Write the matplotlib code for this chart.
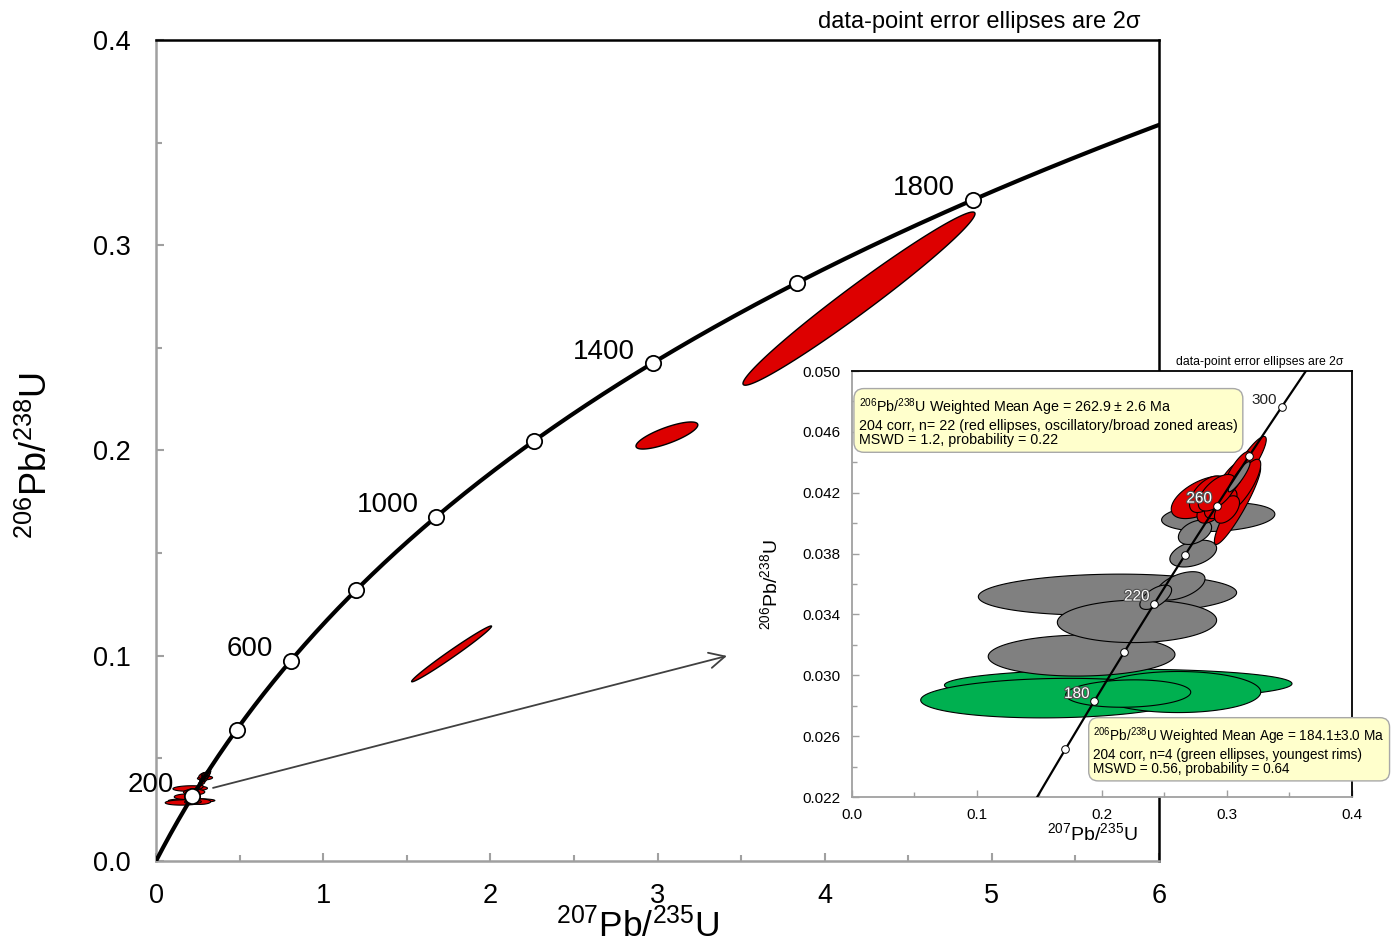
import numpy as np
import matplotlib
matplotlib.use("Agg")
import matplotlib.pyplot as plt
from matplotlib.patches import Polygon
from matplotlib.ticker import AutoMinorLocator
import matplotlib.patheffects as pe

plt.rcParams['font.family'] = ['Liberation Sans', 'DejaVu Sans']
plt.rcParams['mathtext.fontset'] = 'custom'
plt.rcParams['mathtext.rm'] = 'Liberation Sans'
plt.rcParams['mathtext.it'] = 'Liberation Sans:italic'
plt.rcParams['mathtext.bf'] = 'Liberation Sans:bold'

# U decay constants (1/yr)
LAMBDA_238 = 1.55125e-10
LAMBDA_235 = 9.8485e-10

# concordia age marks (Ma)
main_ages = [200, 400, 600, 800, 1000, 1200, 1400, 1600, 1800]
main_age_labels = [200, 600, 1000, 1400, 1800]
inset_ages = [160, 180, 200, 220, 240, 260, 280, 300]
inset_age_labels = [180, 220, 260, 300]
inset_haloed_labels = [180, 220, 260]

# older discordant grains: 207Pb/235U, 2s, 206Pb/238U, 2s, rho
old_x = [4.205, 3.056, 1.768]
old_x2s = [0.694, 0.185, 0.239]
old_y = [0.2740, 0.2073, 0.1009]
old_y2s = [0.0422, 0.0066, 0.0136]
old_rho = [0.98, 0.78, 0.988]

# Triassic-Permian grains (drawing order), group: rim / core / osc
grain_group = ['rim', 'rim', 'rim', 'rim',
               'core', 'core', 'core', 'core', 'core', 'core', 'core', 'core',
               'osc', 'osc', 'osc', 'osc', 'osc', 'osc', 'osc', 'osc', 'osc',
               'osc', 'osc', 'osc', 'core']
grain_x = [0.213, 0.163, 0.261, 0.221,
           0.2044, 0.1837, 0.228, 0.263, 0.243, 0.273, 0.293, 0.2744,
           0.2804, 0.3084, 0.3164, 0.2990, 0.3130, 0.2880, 0.2950, 0.3030,
           0.2840, 0.3000, 0.3080, 0.2920, 0.3097]
grain_x2s = [0.139, 0.108, 0.066, 0.050,
             0.1033, 0.0747, 0.0637, 0.0194, 0.0127, 0.0187, 0.0453, 0.0133,
             0.0250, 0.0185, 0.0150, 0.0170, 0.0140, 0.0120, 0.0130, 0.0120,
             0.0140, 0.0100, 0.0110, 0.0150, 0.0087]
grain_y = [0.0294, 0.0285, 0.0289, 0.0288,
           0.0353, 0.0313, 0.03355, 0.03588, 0.03513, 0.0380, 0.0404, 0.0394,
           0.0417, 0.0412, 0.0439, 0.0421, 0.0425, 0.0410, 0.0413, 0.0428,
           0.0419, 0.0409, 0.0433, 0.0420, 0.04305]
grain_y2s = [0.0010, 0.0013, 0.00135, 0.0009,
             0.00135, 0.00135, 0.0014, 0.00093, 0.0008, 0.00088, 0.00095, 0.0008,
             0.0014, 0.0026, 0.0018, 0.0014, 0.0017, 0.0010, 0.0010, 0.0013,
             0.0012, 0.0009, 0.0014, 0.0012, 0.00099]
grain_rho = [0.05, 0.1, 0.0, 0.1,
             0.1, 0.05, 0.05, 0.5, 0.6, 0.4, 0.2, 0.4,
             0.55, 0.92, 0.88, 0.65, 0.8, 0.5, 0.55, 0.75,
             0.55, 0.5, 0.8, 0.6, 0.9]

group_colors = {'rim': '#00B050', 'core': '#808080', 'osc': '#DD0000'}
RED = '#DD0000'
SPINE_GRAY = '#A0A0A0'

main_xticks = [0, 1, 2, 3, 4, 5, 6]
main_yticks = [0.0, 0.1, 0.2, 0.3, 0.4]
inset_xticks = [0.0, 0.1, 0.2, 0.3, 0.4]
inset_yticks = [0.022, 0.026, 0.030, 0.034, 0.038, 0.042, 0.046, 0.050]

label_206 = r'$^{206}$Pb/$^{238}$U'
label_207 = r'$^{207}$Pb/$^{235}$U'

box_old = (r'$^{206}$Pb/$^{238}$U Weighted Mean Age = 262.9 ± 2.6 Ma' '\n'
           '204 corr, n= 22 (red ellipses, oscillatory/broad zoned areas)\n'
           'MSWD = 1.2, probability = 0.22')
box_young = (r'$^{206}$Pb/$^{238}$U Weighted Mean Age = 184.1±3.0 Ma' '\n'
             '204 corr, n=4 (green ellipses, youngest rims)\n'
             'MSWD = 0.56, probability = 0.64')


def concordia(age_ma):
    t = np.asarray(age_ma, dtype=float) * 1e6
    return np.exp(LAMBDA_235 * t) - 1, np.exp(LAMBDA_238 * t) - 1


def ellipse_xy(cx, ex, cy, ey, rho, n=240):
    th = np.linspace(0, 2 * np.pi, n)
    x = cx + ex * np.cos(th)
    y = cy + ey * (rho * np.cos(th) + np.sqrt(1 - rho ** 2) * np.sin(th))
    return np.column_stack([x, y])


def style_axes(ax, tick_len, tick_w, spine_w):
    for side in ('left', 'bottom'):
        ax.spines[side].set_color(SPINE_GRAY)
        ax.spines[side].set_linewidth(spine_w)
    for side in ('top', 'right'):
        ax.spines[side].set_color('black')
        ax.spines[side].set_linewidth(spine_w)
    ax.xaxis.set_minor_locator(AutoMinorLocator(2))
    ax.yaxis.set_minor_locator(AutoMinorLocator(2))
    ax.tick_params(which='both', direction='in', color=SPINE_GRAY,
                   width=tick_w, top=False, right=False)
    ax.tick_params(which='major', length=tick_len)
    ax.tick_params(which='minor', length=tick_len * 0.7)


fig = plt.figure(figsize=(13.98, 9.46), dpi=100)

# ---------------- main concordia diagram ----------------
ax = fig.add_axes([0.1116, 0.0899, 0.7175, 0.8678])
ax.set_xlim(0, 6)
ax.set_ylim(0, 0.4)
style_axes(ax, 6, 1.5, 1.8)
ax.set_xticks(main_xticks)
ax.set_yticks(main_yticks)
ax.set_xticklabels([str(v) for v in main_xticks])
ax.set_yticklabels([f'{v:.1f}' for v in main_yticks])
ax.tick_params(axis='x', which='major', labelsize=19.5, pad=16)
ax.tick_params(axis='y', which='major', labelsize=19.5, pad=18)

cx, cy = concordia(np.linspace(0, 2100, 600))
ax.plot(cx, cy, color='black', lw=3.0, zorder=4, solid_capstyle='butt')

for i in range(len(old_x)):
    ax.add_patch(Polygon(ellipse_xy(old_x[i], old_x2s[i], old_y[i], old_y2s[i], old_rho[i]),
                         closed=True, fc=RED, ec='black', lw=1.0, zorder=3))
for i in range(len(grain_x)):
    ax.add_patch(Polygon(ellipse_xy(grain_x[i], grain_x2s[i], grain_y[i], grain_y2s[i], grain_rho[i]),
                         closed=True, fc=RED, ec='black', lw=0.8, zorder=3))

mx, my = concordia(main_ages)
ax.plot(mx, my, 'o', ms=11, mfc='white', mec='black', mew=1.3, zorder=5)
for age in main_age_labels:
    x, y = concordia(age)
    ax.annotate(str(age), (x, y), xytext=(-13, -1), textcoords='offset points',
                ha='right', va='bottom', fontsize=20, zorder=6)

ax.annotate('', xy=(3.415, 0.0999), xytext=(0.341, 0.0356),
            arrowprops=dict(arrowstyle='->', color='#404040', lw=1.3,
                            mutation_scale=28, shrinkA=0, shrinkB=0))

ax.set_xlabel(label_207, fontsize=25.5)
ax.set_ylabel(label_206, fontsize=26)
ax.xaxis.set_label_coords(0.48, -0.057)
ax.yaxis.set_label_coords(-0.101, 0.494)

fig.text(1140 / 1398, 1 - 22 / 946, 'data-point error ellipses are 2σ',
         ha='right', va='center', fontsize=17)

# ---------------- inset: young grains ----------------
ai = fig.add_axes([0.6094, 0.1575, 0.3577, 0.4503])
ai.set_facecolor('white')
ai.set_xlim(0, 0.4)
ai.set_ylim(0.022, 0.050)
style_axes(ai, 5, 1.0, 1.3)
ai.set_xticks(inset_xticks)
ai.set_yticks(inset_yticks)
ai.set_xticklabels([f'{v:.1f}' for v in inset_xticks])
ai.set_yticklabels([f'{v:.3f}' for v in inset_yticks])
ai.tick_params(which='major', labelsize=11, pad=8)

for i in range(len(grain_x)):
    ai.add_patch(Polygon(ellipse_xy(grain_x[i], grain_x2s[i], grain_y[i], grain_y2s[i], grain_rho[i]),
                         closed=True, fc=group_colors[grain_group[i]], ec='black',
                         lw=0.8, zorder=3))

ix, iy = concordia(np.linspace(100, 350, 300))
ai.plot(ix, iy, color='black', lw=1.6, zorder=4)
px, py = concordia(inset_ages)
ai.plot(px, py, 'o', ms=5.5, mfc='white', mec='black', mew=0.7, zorder=5)
for age in inset_age_labels:
    x, y = concordia(age)
    if age in inset_haloed_labels:
        ai.annotate(str(age), (x, y), xytext=(-3.5, 0), textcoords='offset points',
                    ha='right', va='bottom', fontsize=11, color='white', zorder=6,
                    path_effects=[pe.withStroke(linewidth=1.6, foreground='#505050')])
    else:
        ai.annotate(str(age), (x, y), xytext=(-3.5, 0), textcoords='offset points',
                    ha='right', va='bottom', fontsize=11, color='#222222', zorder=6)

ai.set_xlabel(label_207, fontsize=14)
ai.set_ylabel(label_206, fontsize=14)
ai.xaxis.set_label_coords(0.48, -0.06)
ai.yaxis.set_label_coords(-0.142, 0.498)

fig.text(1343 / 1398, 1 - 362 / 946, 'data-point error ellipses are 2σ',
         ha='right', va='center', fontsize=8.8)

box_style = dict(boxstyle='round,pad=0.35,rounding_size=0.7', fc='#FFFFCC',
                 ec='#A8A8A8', lw=1.0)
ai.text(0.014, 0.94, box_old, transform=ai.transAxes, ha='left', va='top',
        fontsize=10.3, linespacing=1.05, bbox=box_style, zorder=7)
ai.text(0.483, 0.168, box_young, transform=ai.transAxes, ha='left', va='top',
        fontsize=9.8, linespacing=1.05, bbox=box_style, zorder=7, clip_on=False)

fig.savefig('out.png', dpi=100)
